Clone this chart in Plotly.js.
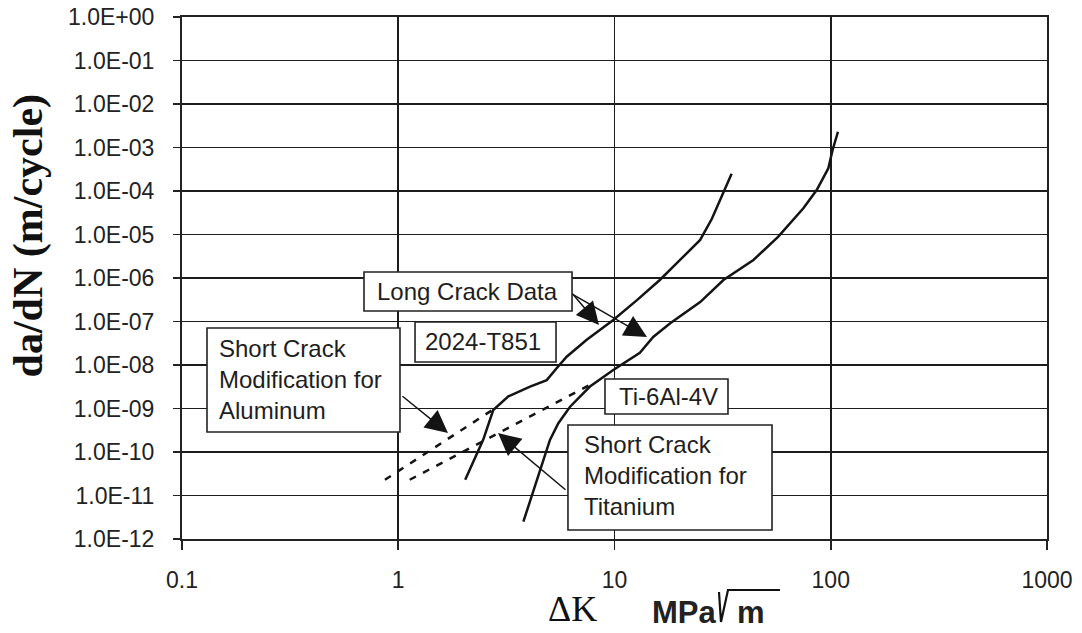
<!DOCTYPE html>
<html>
<head>
<meta charset="utf-8">
<script src="https://cdn.plot.ly/plotly-3.0.1.min.js"></script>
<style>
  html, body { margin: 0; padding: 0; background: #fff; }
  #chart { width: 1082px; height: 633px; }
</style>
</head>
<body>
<div id="chart"></div>
<script>
// Crack growth rate da/dN (m/cycle) against stress intensity range ΔK (MPa√m)

// 2024-T851 aluminium, long crack data
const alLongK    = [2.04, 2.47, 2.75, 3.23, 4.07, 4.86, 5.40, 6.01, 7.44, 9.87, 12.7, 16.2, 20.1, 24.9, 28.2, 31.9, 34.8];
const alLongRate = [2.3e-11, 1.9e-10, 9.2e-10, 1.9e-9, 3.2e-9, 4.5e-9, 8.4e-9, 1.55e-8, 3.8e-8, 1.08e-7, 3.1e-7, 9.0e-7, 2.6e-6, 7.5e-6, 2.3e-5, 9.5e-5, 2.5e-4];

// Ti-6Al-4V, long crack data
const tiLongK    = [3.79, 4.14, 4.52, 5.03, 5.50, 6.23, 7.70, 9.87, 13.1, 15.1, 18.1, 24.9, 31.9, 43.9, 57.2, 74.7, 86.1, 97.4, 102, 108];
const tiLongRate = [2.5e-12, 9.4e-12, 3.9e-11, 1.9e-10, 4.6e-10, 1.1e-9, 3.2e-9, 7.7e-9, 1.9e-8, 4.4e-8, 9.1e-8, 2.8e-7, 9.0e-7, 2.6e-6, 8.9e-6, 4.0e-5, 1.05e-4, 3.3e-4, 8.8e-4, 2.3e-3];

// Short crack modifications
const alShortK    = [0.868, 2.86];
const alShortRate = [2.3e-11, 1.08e-9];
const tiShortK    = [1.13, 7.87];
const tiShortRate = [2.3e-11, 3.7e-9];

// Axis ticks
const xTickVals  = [0.1, 1, 10, 100, 1000];
const xTickText  = ['0.1', '1', '10', '100', '1000'];
const yTickVals  = [1e0, 1e-1, 1e-2, 1e-3, 1e-4, 1e-5, 1e-6, 1e-7, 1e-8, 1e-9, 1e-10, 1e-11, 1e-12];
const yTickText  = ['1.0E+00', '1.0E-01', '1.0E-02', '1.0E-03', '1.0E-04', '1.0E-05', '1.0E-06',
                    '1.0E-07', '1.0E-08', '1.0E-09', '1.0E-10', '1.0E-11', '1.0E-12'];

const INK = '#141414';
const SANS = 'Liberation Sans, Arial, sans-serif';
const SERIF = 'Liberation Serif, Times New Roman, serif';

const solid = { color: INK, width: 2.5 };
const dashed = { color: INK, width: 2.5, dash: '7px,8px' };

const traces = [
  { x: alLongK,  y: alLongRate,  mode: 'lines', line: solid,  name: '2024-T851' },
  { x: tiLongK,  y: tiLongRate,  mode: 'lines', line: solid,  name: 'Ti-6Al-4V' },
  { x: alShortK, y: alShortRate, mode: 'lines', line: dashed, name: 'Short crack, aluminum' },
  { x: tiShortK, y: tiShortRate, mode: 'lines', line: dashed, name: 'Short crack, titanium' }
];

// label box: outline rectangle in paper coordinates
function box(x0, x1, y0, y1) {
  return { type: 'rect', xref: 'paper', yref: 'paper', x0: x0, x1: x1, y0: y0, y1: y1,
           layer: 'above', fillcolor: '#ffffff', line: { color: '#222', width: 1.6 } };
}
function label(text, x, y, anchor) {
  return { text: text, xref: 'paper', yref: 'paper', x: x, y: y, showarrow: false,
           xanchor: anchor || 'left', yanchor: 'middle', align: 'left',
           font: { family: SANS, size: 24, color: '#1e1e1e' } };
}
// pointer arrow, head and tail given as log10 of the axis values
function pointer(tailX, tailY, headX, headY) {
  return { text: '', x: headX, y: headY, ax: tailX, ay: tailY, xref: 'x', yref: 'y',
           axref: 'x', ayref: 'y', showarrow: true, arrowhead: 2, arrowsize: 3,
           arrowwidth: 1.5, arrowcolor: INK, standoff: 0, startstandoff: 0 };
}

const layout = {
  width: 1082, height: 633,
  margin: { l: 182, r: 35, t: 17, b: 94 },
  paper_bgcolor: '#ffffff', plot_bgcolor: '#ffffff',
  showlegend: false,
  xaxis: {
    type: 'log', range: [-1, 3],
    tickvals: xTickVals, ticktext: xTickText,
    ticks: 'outside', ticklen: 9, tickwidth: 1.6, tickcolor: '#222',
    ticklabelstandoff: 10,
    showgrid: true, gridcolor: '#1c1c1c', gridwidth: 1.6,
    showline: true, linecolor: '#222', linewidth: 2, mirror: true,
    zeroline: false,
    tickfont: { family: SANS, size: 23, color: '#222' }
  },
  yaxis: {
    type: 'log', range: [-12, 0],
    tickvals: yTickVals, ticktext: yTickText,
    ticks: 'outside', ticklen: 7, tickwidth: 1.6, tickcolor: '#222',
    ticklabelstandoff: 14,
    showgrid: true, gridcolor: '#1c1c1c', gridwidth: 1.6,
    showline: true, linecolor: '#222', linewidth: 2, mirror: true,
    zeroline: false,
    tickfont: { family: SANS, size: 23, color: '#222' }
  },
  shapes: [
    box(0.2104, 0.4509, 0.4368, 0.5115),   // Long Crack Data
    box(0.2694, 0.4324, 0.3391, 0.4157),   // 2024-T851
    box(0.0289, 0.2520, 0.2050, 0.4042),   // aluminum short crack note
    box(0.4890, 0.6312, 0.2395, 0.3065),   // Ti-6Al-4V
    box(0.4462, 0.6821, 0.0172, 0.2184),   // titanium short crack note
    // radical sign with its bar over the unit "m"
    { type: 'path', xref: 'paper', yref: 'paper',
      path: 'M0.6208,-0.1015 L0.6231,-0.1590 L0.6312,-0.0977 L0.6913,-0.0977',
      line: { color: '#111', width: 2.2 } }
  ],
  annotations: [
    { text: '<b>da/dN (m/cycle)</b>', xref: 'paper', yref: 'paper', x: -0.177, y: 0.5814,
      xanchor: 'center', yanchor: 'middle', textangle: -90, showarrow: false,
      font: { family: SERIF, size: 42, color: '#111' } },
    { text: 'ΔK', xref: 'paper', yref: 'paper', x: 0.452, y: -0.1335,
      xanchor: 'center', yanchor: 'middle', showarrow: false,
      font: { family: SERIF, size: 36, color: '#111' } },
    { text: '<b>MPa</b>', xref: 'paper', yref: 'paper', x: 0.5410, y: -0.1400,
      xanchor: 'left', yanchor: 'middle', showarrow: false,
      font: { family: SANS, size: 31, color: '#222' } },
    { text: '<b>m</b>', xref: 'paper', yref: 'paper', x: 0.6393, y: -0.1400,
      xanchor: 'left', yanchor: 'middle', showarrow: false,
      font: { family: SANS, size: 31, color: '#222' } },

    label('Long Crack Data', 0.2231, 0.4741),
    label('2024-T851', 0.2790, 0.3793),
    label('Short Crack<br>Modification for<br>Aluminum', 0.0405, 0.3046),
    label('Ti-6Al-4V', 0.5624, 0.2730, 'center'),
    label('Short Crack<br>Modification for<br>Titanium', 0.4624, 0.1207),

    pointer(0.7988, -6.3218, 0.9283, -7.0805),
    pointer(0.8035, -6.3678, 1.1503, -7.3563),
    pointer(0.0127, -8.6897, 0.2301, -9.5632),
    pointer(0.7803, -10.8966, 0.4613, -9.5632)
  ]
};

Plotly.newPlot('chart', traces, layout, { staticPlot: true, displayModeBar: false });
</script>
</body>
</html>
